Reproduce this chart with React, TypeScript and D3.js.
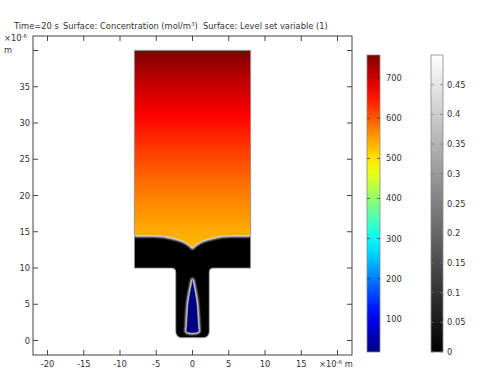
import React from 'react';
import * as d3 from 'd3';

const W = 484;
const H = 381;

// axes
const xDomain = [-22, 22];
const yDomain = [-2, 42];
const xTicks = [-20, -15, -10, -5, 0, 5, 10, 15, 20];
const xTickLabels = ['-20', '-15', '-10', '-5', '0', '5', '10', '15', ''];
const yTicks = [0, 5, 10, 15, 20, 25, 30, 35, 40];
const yTickLabels = ['0', '5', '10', '15', '20', '25', '30', '35', ''];

// colour ranges
const concRange = [17, 758];
const concTicks = [100, 200, 300, 400, 500, 600, 700];
const lsRange = [0, 0.5];
const lsTicks = [0, 0.05, 0.1, 0.15, 0.2, 0.25, 0.3, 0.35, 0.4, 0.45];
const lsTickLabels = ['0', '0.05', '0.1', '0.15', '0.2', '0.25', '0.3', '0.35', '0.4', '0.45'];

// geometry (µm)
const wideX = [-8, 8];
const wideY = [10, 40];
const channelX = [-2.3, 2.3];
const channelBottom = 0.4;

// interface between phases
const interfaceX = [-8, -6, -4, -3, -2, -1.5, -1, -0.5, 0, 0.5, 1, 1.5, 2, 3, 4, 6, 8];
const interfaceY = [14.5, 14.5, 14.4, 14.2, 13.95, 13.8, 13.55, 13.25, 12.8, 13.25, 13.55, 13.8, 13.95, 14.2, 14.4, 14.5, 14.5];

// concentration profile vs height in the upper phase
const concHeights = [12.8, 16, 20, 25, 30, 35, 40];
const concValues = [528, 548, 572, 612, 655, 705, 758];

// droplet (lower phase pocket)
const dropY = [1.2, 2, 3, 4, 5.2, 6, 7, 7.8, 8.4];
const dropHalfWidth = [0.82, 0.8, 0.76, 0.7, 0.6, 0.48, 0.3, 0.14, 0];
const dropConc = 20;

const jet = d3
  .scaleLinear<string>()
  .domain([0, 0.125, 0.375, 0.625, 0.875, 1])
  .range(['#000080', '#0000ff', '#00ffff', '#ffff00', '#ff0000', '#800000'])
  .clamp(true);
const concColor = (v: number) => jet((v - concRange[0]) / (concRange[1] - concRange[0]));

const plot = { left: 33, right: 352, top: 36, bottom: 355 };
const font = 'DejaVu Sans, sans-serif';
const fs = 8.3;
const txt = '#333';

export default function App() {
  const X = d3.scaleLinear().domain(xDomain).range([plot.left, plot.right]);
  const Y = d3.scaleLinear().domain(yDomain).range([plot.bottom, plot.top]);

  // domain shape
  const rf = (X(1) - X(0)) * 0.55;
  const rb = (X(1) - X(0)) * 0.8;
  const p = d3.path();
  p.moveTo(X(wideX[0]), Y(wideY[1]));
  p.lineTo(X(wideX[1]), Y(wideY[1]));
  p.lineTo(X(wideX[1]), Y(wideY[0]));
  p.arcTo(X(channelX[1]), Y(wideY[0]), X(channelX[1]), Y(channelBottom), rf);
  p.arcTo(X(channelX[1]), Y(channelBottom), X(channelX[0]), Y(channelBottom), rb);
  p.arcTo(X(channelX[0]), Y(channelBottom), X(channelX[0]), Y(wideY[0]), rb);
  p.arcTo(X(channelX[0]), Y(wideY[0]), X(wideX[0]), Y(wideY[0]), rf);
  p.lineTo(X(wideX[0]), Y(wideY[0]));
  p.closePath();
  const domainPath = p.toString();

  const ifacePts: [number, number][] = interfaceX.map((x, i) => [X(x), Y(interfaceY[i])]);
  const ifaceLine = d3.line()(ifacePts) || '';
  const upperPoly =
    `M${X(wideX[0])},${Y(wideY[1])}L${X(wideX[1])},${Y(wideY[1])}` +
    ifacePts
      .slice()
      .reverse()
      .map((q) => `L${q[0]},${q[1]}`)
      .join('') +
    'Z';

  // droplet
  const right: [number, number][] = dropY.map((y, i) => [X(dropHalfWidth[i]), Y(y)]);
  const left: [number, number][] = dropY
    .map((y, i) => [X(-dropHalfWidth[i]), Y(y)] as [number, number])
    .reverse();
  const dropShape =
    d3.line().curve(d3.curveCatmullRomClosed)([
      ...right,
      ...left.slice(1, -1),
      [X(-dropHalfWidth[0]), Y(dropY[0])],
    ]) || '';

  // concentration gradient stops
  const cScale = d3.scaleLinear().domain(concHeights).range(concValues);
  const yTop = wideY[1];
  const yBot = d3.min(interfaceY) as number;
  const nStops = 24;
  const concStops = d3.range(nStops + 1).map((i) => {
    const h = yTop - ((yTop - yBot) * i) / nStops;
    return { offset: i / nStops, color: concColor(cScale(h)) };
  });

  // colorbars
  const cb1 = { x: 367, w: 13, top: 55, bottom: 352 };
  const cb2 = { x: 431, w: 12, top: 55, bottom: 352 };
  const C1 = d3.scaleLinear().domain(concRange).range([cb1.bottom, cb1.top]);
  const C2 = d3.scaleLinear().domain(lsRange).range([cb2.bottom, cb2.top]);
  const jetStops = d3.range(21).map((i) => ({ offset: i / 20, color: jet(1 - i / 20) }));

  const tick = 5;

  return (
    <svg width={W} height={H} style={{ display: 'block', position: 'absolute', left: 0, top: 0 }} fontFamily={font}>
      <defs>
        <linearGradient id="conc" gradientUnits="userSpaceOnUse" x1={0} x2={0} y1={Y(yTop)} y2={Y(yBot)}>
          {concStops.map((s, i) => (
            <stop key={i} offset={s.offset} stopColor={s.color} />
          ))}
        </linearGradient>
        <linearGradient id="jetbar" x1={0} x2={0} y1={0} y2={1}>
          {jetStops.map((s, i) => (
            <stop key={i} offset={s.offset} stopColor={s.color} />
          ))}
        </linearGradient>
        <linearGradient id="graybar" x1={0} x2={0} y1={0} y2={1}>
          <stop offset={0} stopColor="#ffffff" />
          <stop offset={1} stopColor="#000000" />
        </linearGradient>
        <linearGradient id="streak" gradientUnits="userSpaceOnUse" x1={0} x2={0} y1={Y(12.8)} y2={Y(8.4)}>
          <stop offset={0} stopColor="#222" />
          <stop offset={0.5} stopColor="#555" />
          <stop offset={1} stopColor="#cfcfcf" />
        </linearGradient>
        <filter id="blur1" x="-20%" y="-20%" width="140%" height="140%">
          <feGaussianBlur stdDeviation={1.2} />
        </filter>
        <filter id="blur05" x="-20%" y="-20%" width="140%" height="140%">
          <feGaussianBlur stdDeviation={0.5} />
        </filter>
        <clipPath id="domClip">
          <path d={domainPath} />
        </clipPath>
      </defs>

      {/* title */}
      <text x={14} y={29} fontSize={fs} fill={txt}>Time=20 s</text>
      <text x={63} y={29} fontSize={fs} fill={txt}>
        Surface: Concentration (mol/m
        <tspan dy={-3} fontSize={5.5}>3</tspan>
        <tspan dy={3}>)</tspan>
      </text>
      <text x={203} y={29} fontSize={fs} fill={txt}>Surface: Level set variable (1)</text>

      {/* domain */}
      <path d={domainPath} fill="none" stroke="#bdbdbd" strokeWidth={1.4} filter="url(#blur05)" />
      <path d={domainPath} fill="#000" />
      <g clipPath="url(#domClip)">
        <line x1={X(0)} x2={X(0)} y1={Y(12.8)} y2={Y(8.4)} stroke="url(#streak)" strokeWidth={2} filter="url(#blur05)" />
        <path d={ifaceLine} fill="none" stroke="#ffffff" strokeWidth={3} filter="url(#blur1)" />
        <path d={upperPoly} fill="url(#conc)" />
        <path d={ifaceLine} fill="none" stroke="#d8d8d8" strokeWidth={0.6} />
        <path d={dropShape} fill="none" stroke="#ffffff" strokeWidth={3} filter="url(#blur1)" />
        <path d={dropShape} fill={concColor(dropConc)} stroke="#bcbcbc" strokeWidth={0.6} />
      </g>
      <path d={domainPath} fill="none" stroke="#c8c8c8" strokeWidth={0.5} />

      {/* frame */}
      <rect x={plot.left} y={plot.top} width={plot.right - plot.left} height={plot.bottom - plot.top} fill="none" stroke="#444" strokeWidth={1} />
      {xTicks.map((t, i) => (
        <g key={'x' + i}>
          <line x1={X(t)} x2={X(t)} y1={plot.bottom} y2={plot.bottom - tick} stroke="#444" />
          <line x1={X(t)} x2={X(t)} y1={plot.top} y2={plot.top + tick} stroke="#444" />
          <text x={X(t)} y={367} fontSize={fs} fill={txt} textAnchor="middle">{xTickLabels[i]}</text>
        </g>
      ))}
      {yTicks.map((t, i) => (
        <g key={'y' + i}>
          <line x1={plot.left} x2={plot.left + tick} y1={Y(t)} y2={Y(t)} stroke="#444" />
          <line x1={plot.right} x2={plot.right - tick} y1={Y(t)} y2={Y(t)} stroke="#444" />
          <text x={30} y={Y(t) + 3} fontSize={fs} fill={txt} textAnchor="end">{yTickLabels[i]}</text>
        </g>
      ))}
      <text x={4} y={41} fontSize={fs} fill={txt}>
        ×10<tspan dy={-3} fontSize={5.5}>-6</tspan>
      </text>
      <text x={4} y={53} fontSize={fs} fill={txt}>m</text>
      <text x={319} y={367} fontSize={fs} fill={txt}>
        ×10<tspan dy={-3} fontSize={5.5}>-6</tspan>
        <tspan dy={3}> m</tspan>
      </text>

      {/* colorbar 1 */}
      <rect x={cb1.x} y={cb1.top} width={cb1.w} height={cb1.bottom - cb1.top} fill="url(#jetbar)" stroke="#888" strokeWidth={0.8} />
      {concTicks.map((t, i) => (
        <g key={'c' + i}>
          <line x1={cb1.x} x2={cb1.x + 3} y1={C1(t)} y2={C1(t)} stroke="#333" strokeWidth={0.7} />
          <line x1={cb1.x + cb1.w} x2={cb1.x + cb1.w - 3} y1={C1(t)} y2={C1(t)} stroke="#333" strokeWidth={0.7} />
          <text x={386} y={C1(t) + 3} fontSize={fs} fill={txt}>{t}</text>
        </g>
      ))}

      {/* colorbar 2 */}
      <rect x={cb2.x} y={cb2.top} width={cb2.w} height={cb2.bottom - cb2.top} fill="url(#graybar)" stroke="#888" strokeWidth={0.8} />
      {lsTicks.map((t, i) => (
        <g key={'l' + i}>
          <line x1={cb2.x} x2={cb2.x + 3} y1={C2(t)} y2={C2(t)} stroke="#777" strokeWidth={0.7} />
          <line x1={cb2.x + cb2.w} x2={cb2.x + cb2.w - 3} y1={C2(t)} y2={C2(t)} stroke="#777" strokeWidth={0.7} />
          <text x={447} y={C2(t) + 3} fontSize={fs} fill={txt}>{lsTickLabels[i]}</text>
        </g>
      ))}
    </svg>
  );
}
